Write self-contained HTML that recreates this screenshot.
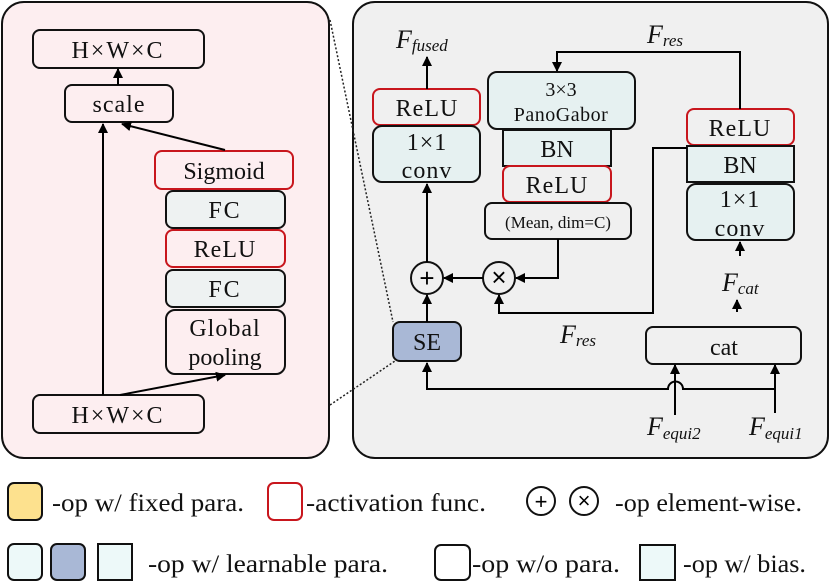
<!DOCTYPE html>
<html><head><meta charset="utf-8"><style>
html,body{margin:0;padding:0;background:#fff;}
svg{display:block;font-family:"Liberation Serif",serif;}
</style></head><body>
<svg width="830" height="583" viewBox="0 0 830 583" xmlns="http://www.w3.org/2000/svg">
<defs>
<marker id="a" viewBox="0 0 10 10" refX="9" refY="5" markerWidth="10" markerHeight="10" markerUnits="userSpaceOnUse" orient="auto"><path d="M0,0 L10,5 L0,10 z" fill="#000"/></marker>
</defs>
<rect x="2" y="2" width="327" height="456" rx="22" fill="#fdeef0" stroke="#111" stroke-width="2"/>
<rect x="353" y="2" width="475" height="456" rx="22" fill="#f0f0f0" stroke="#111" stroke-width="2"/>
<path d="M330,20 L393,322" stroke="#222" stroke-width="1.5" stroke-dasharray="2,2" fill="none"/>
<path d="M330,405 L395,361" stroke="#222" stroke-width="1.5" stroke-dasharray="2,2" fill="none"/>

<g stroke="#111" stroke-width="2">
<rect x="33" y="30" width="171" height="38" rx="7" fill="none"/>
<rect x="65" y="85" width="108" height="37" rx="7" fill="none"/>
<rect x="155" y="151" width="138" height="38" rx="7" fill="none" stroke="#c8161d"/>
<rect x="166" y="191" width="119" height="37" rx="7" fill="#eef2f2"/>
<rect x="166" y="230" width="119" height="37" rx="7" fill="none" stroke="#c8161d"/>
<rect x="166" y="270" width="119" height="37" rx="7" fill="#eef2f2"/>
<rect x="166" y="310" width="119" height="64" rx="9" fill="none"/>
<rect x="33" y="395" width="171" height="38" rx="7" fill="none"/>

<rect x="373" y="89" width="107" height="36" rx="7" fill="none" stroke="#c8161d"/>
<rect x="373" y="126" width="107" height="56" rx="9" fill="#e6f1f1"/>
<rect x="488" y="72" width="147" height="57" rx="9" fill="#e6f1f1"/>
<rect x="503" y="130" width="108" height="36" fill="#e6f1f1"/>
<rect x="503" y="166" width="108" height="36" rx="7" fill="none" stroke="#c8161d"/>
<rect x="485" y="203" width="146" height="36" rx="7" fill="none"/>
<rect x="687" y="109" width="107" height="36" rx="7" fill="none" stroke="#c8161d"/>
<rect x="687" y="146" width="107" height="36" fill="#e6f1f1"/>
<rect x="687" y="184" width="107" height="56" rx="9" fill="#e6f1f1"/>
<rect x="646" y="327" width="155" height="37" rx="7" fill="none"/>
<rect x="393" y="322" width="68" height="39" rx="7" fill="#a9b8d6"/>
<circle cx="427" cy="278" r="16" fill="none"/>
<circle cx="499" cy="278" r="16" fill="none"/>
</g>

<g stroke="#000" stroke-width="2" fill="none">
<line x1="103" y1="395" x2="103" y2="124" marker-end="url(#a)"/>
<line x1="120" y1="395" x2="225" y2="375" marker-end="url(#a)"/>
<line x1="225" y1="150" x2="122" y2="124" marker-end="url(#a)"/>
<line x1="118" y1="85" x2="118" y2="69" marker-end="url(#a)"/>
<line x1="427" y1="89" x2="427" y2="57" marker-end="url(#a)"/>
<line x1="427" y1="262" x2="427" y2="184" marker-end="url(#a)"/>
<line x1="427" y1="322" x2="427" y2="295" marker-end="url(#a)"/>
<line x1="483" y1="278" x2="444" y2="278" marker-end="url(#a)"/>
<polyline points="558,239 558,278 516,278" marker-end="url(#a)"/>
<polyline points="687,148 653,148 653,313 499,313 499,295" marker-end="url(#a)"/>
<polyline points="740,109 740,52 557,52 557,71" marker-end="url(#a)"/>
<line x1="740" y1="256" x2="740" y2="242" marker-end="url(#a)"/>
<line x1="737" y1="312" x2="737" y2="300" marker-end="url(#a)"/>
<path d="M775,389 L683,389 A7.5,7.5 0 0 0 668,389 L427,389 L427,363" marker-end="url(#a)"/>
<line x1="675" y1="415" x2="675" y2="365" marker-end="url(#a)"/>
<line x1="775" y1="413" x2="775" y2="365" marker-end="url(#a)"/>
</g>
<g font-size="26" font-family="Liberation Sans,sans-serif" text-anchor="middle" font-weight="300">
<text x="427" y="287">+</text>
<text x="499" y="286">×</text>
</g>

<g font-size="24" text-anchor="middle" fill="#111">
<text x="118" y="58" letter-spacing="2">H×W×C</text>
<text x="119" y="112" letter-spacing="1">scale</text>
<text x="224" y="179">Sigmoid</text>
<text x="225" y="218" letter-spacing="2">FC</text>
<text x="225" y="257" letter-spacing="1">ReLU</text>
<text x="225" y="297" letter-spacing="2">FC</text>
<text x="225" y="336" letter-spacing="1">Global</text>
<text x="225" y="365">pooling</text>
<text x="118" y="423" letter-spacing="2">H×W×C</text>

<text x="427" y="116" letter-spacing="1">ReLU</text>
<text x="427" y="150" letter-spacing="1">1×1</text>
<text x="427" y="178" letter-spacing="1">conv</text>
<text x="561" y="96" font-size="20">3×3</text>
<text x="561" y="121" font-size="20" letter-spacing="0.5">PanoGabor</text>
<text x="557" y="157">BN</text>
<text x="557" y="193" letter-spacing="1">ReLU</text>
<text x="558" y="228" font-size="17">(Mean, dim=C)</text>
<text x="740" y="136" letter-spacing="1">ReLU</text>
<text x="740" y="173">BN</text>
<text x="740" y="207" letter-spacing="1">1×1</text>
<text x="740" y="236" letter-spacing="1">conv</text>
<text x="724" y="355">cat</text>
<text x="427" y="350">SE</text>
</g>
<g font-size="26" font-style="italic" fill="#111">
<text x="396" y="48">F<tspan font-size="17" dy="3">fused</tspan></text>
<text x="647" y="43">F<tspan font-size="17" dy="3">res</tspan></text>
<text x="722" y="291">F<tspan font-size="17" dy="3">cat</tspan></text>
<text x="560" y="343">F<tspan font-size="17" dy="3">res</tspan></text>
<text x="647" y="435">F<tspan font-size="17" dy="4">equi2</tspan></text>
<text x="749" y="435">F<tspan font-size="17" dy="4">equi1</tspan></text>
</g>

<g stroke="#111" stroke-width="2">
<rect x="8" y="483" width="34" height="37" rx="6" fill="#fde18e"/>
<rect x="268" y="483" width="34" height="37" rx="6" fill="none" stroke="#c8161d"/>
<circle cx="541" cy="501" r="14" fill="none"/>
<circle cx="584" cy="501" r="14" fill="none"/>
<rect x="8" y="544" width="34" height="36" rx="6" fill="#edf9f9"/>
<rect x="51" y="544" width="34" height="36" rx="6" fill="#a9b8d6"/>
<rect x="98" y="544" width="34" height="36" fill="#edf9f9"/>
<rect x="435" y="545" width="35" height="35" rx="6" fill="none"/>
<rect x="640" y="545" width="35" height="35" fill="#edf9f9"/>
</g>
<g font-size="22" font-family="Liberation Sans,sans-serif" text-anchor="middle" font-weight="300">
<text x="541" y="509">+</text>
<text x="584" y="508">×</text>
</g>
<g font-size="25" fill="#111">
<text x="52" y="511" textLength="192" lengthAdjust="spacingAndGlyphs">-op w/ fixed para.</text>
<text x="306" y="511" textLength="180" lengthAdjust="spacingAndGlyphs">-activation func.</text>
<text x="615" y="511" textLength="187" lengthAdjust="spacingAndGlyphs">-op element-wise.</text>
<text x="148" y="572" textLength="240" lengthAdjust="spacingAndGlyphs">-op w/ learnable para.</text>
<text x="472" y="572" textLength="148" lengthAdjust="spacingAndGlyphs">-op w/o para.</text>
<text x="683" y="572" textLength="123" lengthAdjust="spacingAndGlyphs">-op w/ bias.</text>
</g>
</svg>
</body></html>
